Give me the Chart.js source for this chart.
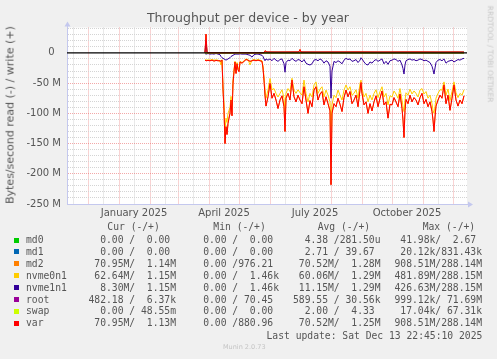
<!DOCTYPE html>
<html>
<head>
<meta charset="utf-8">
<script src="https://cdn.jsdelivr.net/npm/chart.js@4/dist/chart.umd.min.js"></script>
<style>
  html, body { margin: 0; padding: 0; background: #f0f0f0; overflow: hidden; }
  #wrap { position: relative; width: 497px; height: 359px; }
  #chart { position: absolute; left: 0; top: 0; }
  .txt { position: absolute; white-space: pre; color: #555; font-family: 'DejaVu Sans', sans-serif; }
  #title { left: 248px; top: 12px; font-size: 12.5px; line-height: 1; transform: translateX(-50%); }
  #ytitle { left: 9.7px; top: 114.5px; font-size: 11px; line-height: 1; transform: translate(-50%, -50%) rotate(-90deg); }
  #brand { left: 490px; top: 53.5px; font-size: 7.5px; line-height: 1; color: #c8c8c8; transform: translate(-50%, -50%) rotate(90deg); }
  .mono { font-family: 'DejaVu Sans Mono', monospace; font-size: 9.7px; line-height: 12px; }
  .box { position: absolute; width: 5px; height: 5px; }
  #munin { left: 223px; top: 344px; font-size: 6.5px; line-height: 1; color: #c4c4c4; }
</style>
</head>
<body>
<div id="wrap">
  <canvas id="chart" width="497" height="359"></canvas>
  <div class="txt" id="title">Throughput per device - by year</div>
  <div class="txt" id="ytitle">Bytes/second read (-) / write (+)</div>
  <div class="txt" id="brand">RRDTOOL / TOBI OETIKER</div>
  <div id="legend"></div>
  <div class="txt" id="munin">Munin 2.0.73</div>
</div>
<script>
// days are counted from 2024-11-01, values are in M bytes/second
// reads are drawn below zero, writes above

const readDays = [
  147, 148, 150, 152, 154, 156, 158, 160, 162, 163,
  164, 165, 166, 167, 168, 169, 170, 171, 172, 173,
  174, 175, 176, 177, 178, 179, 180, 181, 182, 184,
  186, 188, 190, 192, 194, 196, 198, 200, 202, 204,
  205, 206, 207, 208, 210, 212, 214, 216, 218, 220,
  222, 224, 226, 227, 228, 230, 232, 234, 236, 238,
  240, 242, 244, 246, 248, 250, 252, 254, 256, 258,
  260, 262, 264, 266, 268, 270, 272, 273, 274, 276,
  278, 280, 282, 284, 286, 288, 290, 292, 294, 296,
  298, 300, 302, 303, 304, 306, 308, 310, 312, 314,
  316, 318, 320, 322, 324, 326, 328, 330, 332, 334,
  336, 338, 340, 342, 344, 345, 346, 347, 348, 350,
  352, 354, 356, 358, 360, 362, 364, 366, 368, 370,
  372, 374, 375, 376, 377, 378, 380, 382, 384, 386,
  388, 390, 392, 394, 396, 398, 400, 402, 404, 406,
];

const varRead = [
  -12, -13, -12.5, -13, -12, -13.5, -12.5, -13, -13, -14,
  -12, -60, -95, -150, -122, -135, -117, -108, -100, -78,
  -104, -50, -31, -15, -34, -18, -28, -31, -15, -17,
  -14, -11, -12, -14, -13, -12, -13, -12, -13, -14,
  -25, -45, -70, -88, -72.6, -50.5, -75, -67, -78, -92,
  -78, -71, -89, -130, -75, -67, -78, -45, -72.6, -81,
  -70, -78, -84, -56, -78, -100, -79, -89, -61.5, -56,
  -78, -68, -64, -86, -72.6, -84, -96, -218, -100, -84,
  -89, -75, -85, -97, -74, -61.5, -72.6, -64, -84, -78,
  -70, -89, -61.5, -49, -67, -86, -81, -100, -84, -96,
  -81, -71, -89, -75, -63, -86, -81, -108, -85, -86,
  -74, -81, -89, -68, -92, -111, -140, -95, -77, -84,
  -70, -81, -74, -78, -86, -74, -67, -84, -77, -89,
  -81, -97, -111, -130, -106, -88, -78, -70, -75, -53,
  -84, -70, -95, -75, -53, -78, -88, -78, -84, -71,
];

// md2 is hidden right under var in the picture
const md2Read = [
  -12, -13, -12.5, -13, -12, -13.5, -12.5, -13, -13, -14,
  -12, -60, -95, -150, -122, -135, -117, -108, -100, -78,
  -104, -50, -31, -15, -34, -18, -28, -31, -15, -17,
  -14, -11, -12, -14, -13, -12, -13, -12, -13, -14,
  -25, -45, -70, -88, -72.6, -50.5, -75, -67, -78, -92,
  -78, -71, -89, -130, -75, -67, -78, -45, -72.6, -81,
  -70, -78, -84, -56, -78, -100, -79, -89, -61.5, -56,
  -78, -68, -64, -86, -72.6, -84, -96, -218, -100, -84,
  -89, -75, -85, -97, -74, -61.5, -72.6, -64, -84, -78,
  -70, -89, -61.5, -49, -67, -86, -81, -100, -84, -96,
  -81, -71, -89, -75, -63, -86, -81, -108, -85, -86,
  -74, -81, -89, -68, -92, -111, -140, -95, -77, -84,
  -70, -81, -74, -78, -86, -74, -67, -84, -77, -89,
  -81, -97, -111, -130, -106, -88, -78, -70, -75, -53,
  -84, -70, -95, -75, -53, -78, -88, -78, -84, -71,
];

const nvme0n1Read = [
  -11, -12, -11.5, -12, -11, -12, -11.5, -12, -14, -20,
  -11, -55, -85, -130, -108, -115, -100, -95, -90, -72,
  -90, -45, -28, -14, -30, -16, -25, -27, -14, -16,
  -13, -10, -11, -20, -12, -11, -12, -11, -12, -13,
  -22, -40, -60, -75, -61.5, -42.3, -61, -59, -67, -73,
  -67, -61, -75, -97, -67, -59, -64, -42, -61.5, -67,
  -61, -66, -70, -45, -67, -81, -67, -73, -53, -48,
  -67, -60, -56, -73, -61.5, -70, -81, -122, -86, -70,
  -74, -61.5, -70, -78, -61.5, -53, -61.5, -56, -70, -67,
  -61, -75, -50.5, -45, -59, -73, -67, -81, -70, -78,
  -67, -61, -74, -64, -56, -73, -67, -86, -71, -73,
  -63, -68, -75, -59, -78, -89, -97, -78, -66, -70,
  -60, -68, -63, -67, -73, -61.5, -59, -68, -64, -75,
  -70, -84, -95, -100, -89, -75, -67, -61, -61.5, -48,
  -70, -60, -79, -64, -48, -66, -74, -67, -70, -61,
];

const nvme1n1Read = [
  -1, -2, -1, -2, -1.5, -2, -1, -2, -3, -6,
  -8, -9, -10, -11, -12, -11, -10, -9, -8, -6,
  -5, -4, -3, -2, -2, -2, -2, -2, -1.5, -2,
  -2, -2, -3, -4, -7, -3, -2, -2, -3, -4,
  -6, -10, -13, -10, -12, -10, -13, -9, -12, -14,
  -11, -10, -18, -32, -16, -12, -13, -9, -12, -14,
  -11, -12, -15, -11, -17, -19, -20, -18, -12, -11,
  -13, -10, -12, -17, -13, -15, -22, -75, -30, -14,
  -16, -13, -15, -18, -12, -9, -11, -10, -14, -13,
  -11, -16, -12, -8, -10, -15, -19, -20, -15, -17,
  -13, -11, -14, -12, -10, -18, -14, -19, -13, -12,
  -10, -11, -14, -12, -20, -26, -35, -20, -13, -11,
  -10, -12, -11, -13, -12, -10, -11, -13, -12, -14,
  -16, -22, -28, -35, -25, -16, -12, -11, -13, -10,
  -17, -14, -13, -12, -15, -13, -11, -12, -10, -9,
];

const writeDays = [147, 148, 149, 160, 180, 200, 206, 207, 209, 220, 240, 241, 242, 243, 260, 280, 300, 320, 340, 360, 380, 400, 406];
const varWrite = [0.3, 31, 0.4, 0.2, 0.3, 0.2, 0.3, 3.5, 1.4, 1.3, 1.5, 2.2, 5.5, 1.4, 1.3, 1.4, 1.5, 1.3, 1.4, 1.5, 1.3, 1.4, 1.2];
const md2Write = [0.3, 31, 0.4, 0.2, 0.3, 0.2, 0.3, 3.5, 1.4, 1.3, 1.5, 2.2, 5.5, 1.4, 1.3, 1.4, 1.5, 1.3, 1.4, 1.5, 1.3, 1.4, 1.2];

const nvmeWriteDays = [147, 148, 149, 206, 207, 406];
const nvme0n1Write = [0.3, 20, 0.4, 0.3, 1.2, 1.2];
const nvme1n1Write = [0.3, 20, 0.4, 0.3, 1.2, 1.2];

// the quiet devices stay on the zero line the whole time
const flatDays = [147, 406];
const md0Read = [0, 0];
const md0Write = [0, 0];
const md1Read = [0, 0];
const md1Write = [0, 0];
const rootRead = [0, 0];
const rootWrite = [0.03, 0.03];
const swapRead = [0, 0];
const swapWrite = [0, 0];

// axis labels
const xLabelMonths = ['January 2025', 'April 2025', 'July 2025', 'October 2025'];
const yLabelStep = 50;

// legend
const legendNames = ['md0', 'md1', 'md2', 'nvme0n1', 'nvme1n1', 'root', 'swap', 'var'];
const legendColors = ['#00CC00', '#0066B3', '#FF8000', '#FFCC00', '#330099', '#990099', '#CCFF00', '#FF0000'];
const legendHeaders = ['Cur (-/+)', 'Min (-/+)', 'Avg (-/+)', 'Max (-/+)'];
const legendCur = ['  0.00 /  0.00 ', '  0.00 /  0.00 ', ' 70.95M/  1.14M', ' 62.64M/  1.15M', '  8.30M/  1.15M', '482.18 /  6.37k', '  0.00 / 48.55m', ' 70.95M/  1.13M'];
const legendMin = ['  0.00 /  0.00 ', '  0.00 /  0.00 ', '  0.00 /976.21 ', '  0.00 /  1.46k', '  0.00 /  1.46k', '  0.00 / 70.45 ', '  0.00 /  0.00 ', '  0.00 /880.96 '];
const legendAvg = ['  4.38 /281.50u', '  2.71 / 39.67 ', ' 70.52M/  1.28M', ' 60.06M/  1.29M', ' 11.15M/  1.29M', '589.55 / 30.56k', '  2.00 /  4.33 ', ' 70.52M/  1.25M'];
const legendMax = [' 41.98k/  2.67 ', ' 20.12k/831.43k', '908.51M/288.14M', '481.89M/288.15M', '426.63M/288.15M', '999.12k/ 71.69M', ' 17.04k/ 67.31k', '908.51M/288.14M'];
const lastUpdate = 'Last update: Sat Dec 13 22:45:10 2025';

// ---------------------------------------------------------------

function points(days, values) {
  return days.map((d, i) => ({ x: d, y: values[i] }));
}

function dayOf(year, month, day) {
  return (Date.UTC(year, month, day) - Date.UTC(2024, 10, 1)) / 86400000;
}

const monthNames = ['January', 'February', 'March', 'April', 'May', 'June', 'July',
  'August', 'September', 'October', 'November', 'December'];

// month starts get a red line, the middle of a month a grey one
let monthStarts = [];
let monthMiddles = [];
let xLabelAt = {};
for (let y = 2024; y <= 2025; y++) {
  for (let m = 0; m < 12; m++) {
    const start = dayOf(y, m, 1);
    const mid = dayOf(y, m, 16);
    if (start >= 9 && start <= 409) monthStarts.push(start);
    if (mid >= 9 && mid <= 409) monthMiddles.push(mid);
    const name = monthNames[m] + ' ' + y;
    if (xLabelMonths.includes(name)) xLabelAt[mid] = name;
  }
}

const devices = [
  { read: points(flatDays, md0Read), write: points(flatDays, md0Write) },
  { read: points(flatDays, md1Read), write: points(flatDays, md1Write) },
  { read: points(readDays, md2Read), write: points(writeDays, md2Write) },
  { read: points(readDays, nvme0n1Read), write: points(nvmeWriteDays, nvme0n1Write) },
  { read: points(readDays, nvme1n1Read), write: points(nvmeWriteDays, nvme1n1Write) },
  { read: points(flatDays, rootRead), write: points(flatDays, rootWrite) },
  { read: points(flatDays, swapRead), write: points(flatDays, swapWrite) },
  { read: points(readDays, varRead), write: points(writeDays, varWrite) },
];

let datasets = [];
devices.forEach((dev, i) => {
  // later devices are drawn on top, like rrdtool does
  datasets.push({ label: legendNames[i] + ' read', data: dev.read, borderColor: legendColors[i], order: 40 - i * 2 });
  datasets.push({ label: legendNames[i] + ' write', data: dev.write, borderColor: legendColors[i], order: 39 - i * 2 });
});
datasets.push({ label: 'zero', data: [{ x: 9, y: 0 }, { x: 409, y: 0 }], borderColor: '#000000', borderWidth: 1.3, order: 0 });

const axisColor = '#c4c8ee';
const minorGrid = '#d4d4d4';
const majorGrid = 'rgba(235, 110, 110, 0.6)';

const plotBox = {
  id: 'plotBox',
  beforeDraw(chart) {
    const { ctx, chartArea: a } = chart;
    ctx.save();
    ctx.fillStyle = '#ffffff';
    ctx.fillRect(a.left, a.top, a.right - a.left, a.bottom - a.top);
    ctx.restore();
  },
  afterDraw(chart) {
    const { ctx, chartArea: a } = chart;
    ctx.save();
    ctx.fillStyle = axisColor;
    ctx.strokeStyle = axisColor;
    ctx.lineWidth = 1;
    ctx.beginPath();
    ctx.moveTo(a.left + 0.5, a.top);
    ctx.lineTo(a.left + 0.5, a.top - 2);
    ctx.moveTo(a.right, a.bottom + 0.5);
    ctx.lineTo(a.right + 2, a.bottom + 0.5);
    ctx.stroke();
    // arrow heads
    ctx.beginPath();
    ctx.moveTo(a.left - 2.5, a.top - 1);
    ctx.lineTo(a.left + 3.5, a.top - 1);
    ctx.lineTo(a.left + 0.5, a.top - 6);
    ctx.closePath();
    ctx.fill();
    ctx.beginPath();
    ctx.moveTo(a.right + 1, a.bottom - 2.5);
    ctx.lineTo(a.right + 1, a.bottom + 3.5);
    ctx.lineTo(a.right + 6, a.bottom + 0.5);
    ctx.closePath();
    ctx.fill();
    ctx.restore();
  },
};

const tickFont = { family: 'DejaVu Sans', size: 10 };

const chart = new Chart(document.getElementById('chart'), {
  type: 'line',
  data: { datasets: datasets },
  options: {
    responsive: false,
    animation: false,
    devicePixelRatio: 1,
    layout: { padding: { left: 0, top: 27.5, right: 30, bottom: 0 } },
    elements: { point: { radius: 0 }, line: { borderWidth: 1, tension: 0 } },
    plugins: { legend: { display: false }, tooltip: { enabled: false } },
    scales: {
      x: {
        type: 'linear',
        min: 9,
        max: 409,
        afterFit(scale) { scale.height = 155; },
        afterBuildTicks(scale) {
          scale.ticks = monthStarts.concat(monthMiddles).sort((a, b) => a - b).map(v => ({ value: v }));
        },
        ticks: {
          autoSkip: false,
          maxRotation: 0,
          padding: 3,
          color: '#555',
          font: tickFont,
          callback: v => xLabelAt[v] || '',
        },
        grid: {
          drawTicks: false,
          color: ctx => (monthStarts.includes(ctx.tick.value) ? majorGrid : minorGrid),
        },
        border: { color: axisColor, dash: [1, 1] },
      },
      y: {
        min: -250,
        max: 42,
        afterFit(scale) { scale.width = 67; },
        ticks: {
          stepSize: 10,
          autoSkip: false,
          includeBounds: false,
          padding: 6,
          color: '#555',
          font: tickFont,
          callback: v => (v === 0 ? '0  ' : (v % yLabelStep === 0 ? v + ' M' : '')),
        },
        grid: {
          drawTicks: false,
          color: ctx => {
            const v = ctx.tick.value;
            if (v === 0 || v === -250) return 'rgba(0,0,0,0)';
            return v % yLabelStep === 0 ? majorGrid : minorGrid;
          },
        },
        border: { color: axisColor, dash: [1, 1] },
      },
    },
  },
  plugins: [plotBox],
});

// munin style legend table under the plot
const legend = document.getElementById('legend');
const colRight = [176, 279, 380.5, 482];
const headLeft = [107.3, 213.3, 317.7, 422.7];

function addText(text, cls, css) {
  const el = document.createElement('div');
  el.className = 'txt ' + cls;
  el.textContent = text;
  Object.assign(el.style, css);
  legend.appendChild(el);
}

legendHeaders.forEach((h, c) => {
  addText(h, 'mono', { left: headLeft[c] + 'px', top: (227.3 - 6) + 'px' });
});

legendNames.forEach((name, i) => {
  const cy = 240 + i * 11.9;
  const box = document.createElement('div');
  box.className = 'box';
  box.style.left = '14px';
  box.style.top = (cy - 2.5) + 'px';
  box.style.background = legendColors[i];
  legend.appendChild(box);
  addText(name, 'mono', { left: '26px', top: (cy - 6) + 'px' });
  [legendCur, legendMin, legendAvg, legendMax].forEach((col, c) => {
    addText(col[i], 'mono', { right: (497 - colRight[c]) + 'px', top: (cy - 6) + 'px' });
  });
});

addText(lastUpdate, 'mono', { right: (497 - 482.3) + 'px', top: (336 - 6) + 'px' });
</script>
</body>
</html>
